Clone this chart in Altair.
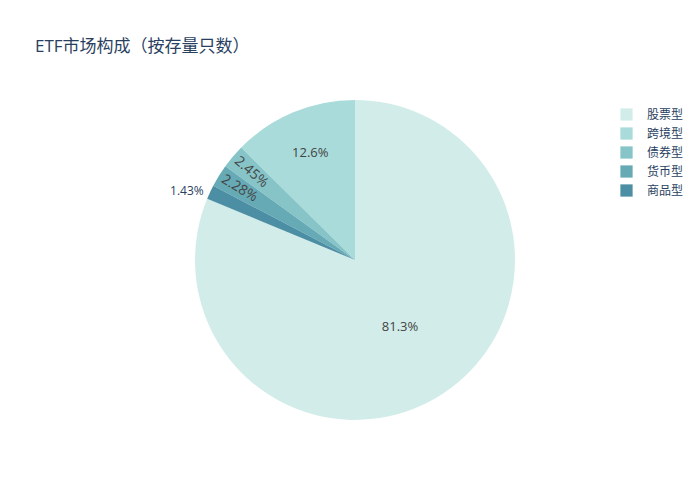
import altair as alt
import pandas as pd

# Data (legend / value order)
categories = ["股票型", "跨境型", "债券型", "货币型", "商品型"]
shares = [81.3, 12.6, 2.45, 2.28, 1.43]
labels = ["81.3%", "12.6%", "2.45%", "2.28%", "1.43%"]
# clockwise drawing order starting at 12 o'clock
draw_order = [0, 4, 3, 2, 1]
colors = ["#d2ede9", "#a8dbd9", "#86c4c8", "#66aab6", "#4c8ea3"]

df = pd.DataFrame({
    "类型": categories,
    "占比": shares,
    "标签": labels,
    "序": draw_order,
})

TOTAL = float(sum(shares))
CX, CY, R = 347, 252, 160
FONT = "Open Sans, Noto Sans CJK SC, sans-serif"
theta_scale = alt.Scale(domain=[0, TOTAL], zero=True, nice=False)

base = alt.Chart(df).transform_stack(
    stack="占比", groupby=[], as_=["s0", "s1"],
    sort=[alt.SortField("序", order="ascending")],
).transform_calculate(mid="(datum.s0 + datum.s1) / 2")

pie = base.mark_arc(outerRadius=R, stroke=None).encode(
    x=alt.value(CX), y=alt.value(CY),
    theta=alt.Theta("s0:Q", stack=None, scale=theta_scale),
    theta2="s1:Q",
    color=alt.Color(
        "类型:N",
        scale=alt.Scale(domain=categories, range=colors),
        legend=alt.Legend(
            title=None, orient="none", legendX=612, legendY=100,
            symbolType="square", symbolSize=150, symbolStrokeWidth=0,
            labelFont=FONT, labelFontSize=12, labelColor="#2a3f5f",
            labelOffset=14, rowPadding=6, symbolOpacity=1,
        ),
    ),
)


def label_layer(cat, radius, **mark_kw):
    return base.transform_filter(
        alt.FieldEqualPredicate(field="类型", equal=cat)
    ).mark_text(font=FONT, **mark_kw).encode(
        x=alt.value(CX), y=alt.value(CY), text="标签:N",
        theta=alt.Theta("mid:Q", stack=None, scale=theta_scale),
        radius=alt.value(radius),
    )


l_stock = label_layer("股票型", 81, fontSize=13, color="#444444")
l_cross = label_layer("跨境型", 116, fontSize=13, color="#444444")
l_bond = label_layer("债券型", 136, fontSize=14, color="#444444", angle=41)
l_money = label_layer("货币型", 136, fontSize=14, color="#444444", angle=31)
l_comm = label_layer("商品型", 167, fontSize=12, color="#2a3f5f", align="right", dy=2)

chart = alt.layer(pie, l_stock, l_cross, l_bond, l_money, l_comm).properties(
    width=684, height=484,
    autosize=alt.AutoSizeParams(type="none"),
    padding=0,
    title=alt.TitleParams(
        "ETF市场构成（按存量只数）", anchor="start", frame="group",
        font=FONT, fontSize=17, fontWeight="normal", color="#2a3f5f",
        dx=27, dy=48, offset=0,
    ),
).configure_view(stroke=None).configure_legend(padding=0)

chart.save("out.html", embed_options={"renderer": "svg", "actions": False})
